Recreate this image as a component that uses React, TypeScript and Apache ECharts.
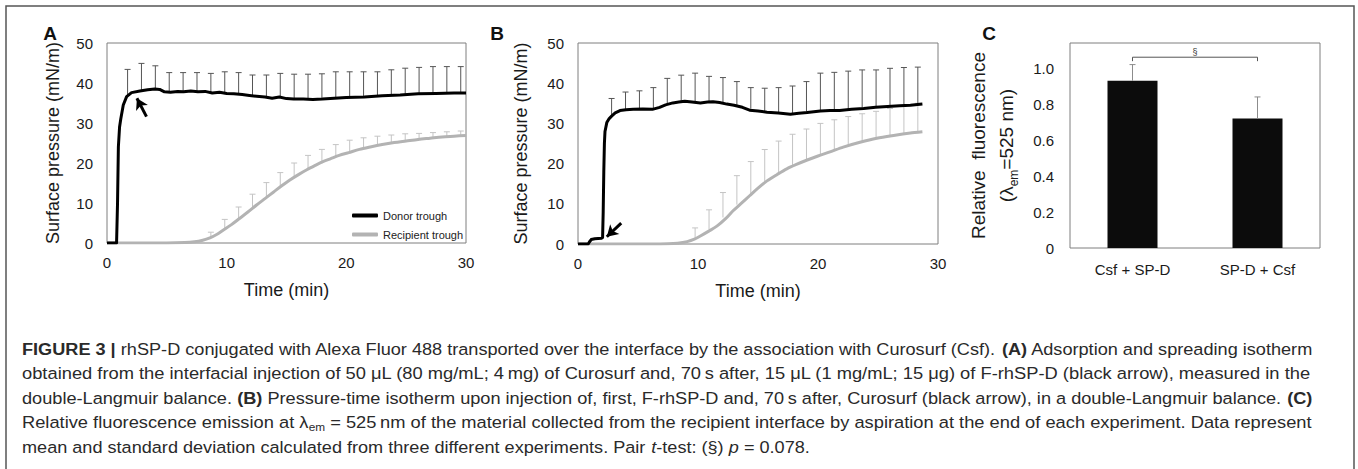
import React, { useEffect, useRef } from 'react';
import * as echarts from 'echarts';

const FONT = '"Liberation Sans", Arial, Helvetica, sans-serif';

// ---------- Panel A : Curosurf first, then F-rhSP-D ----------
const aDonorTime = [0, 0.8, 0.82, 0.88, 0.95, 1.05, 1.15, 1.36, 1.64, 2.05, 2.75, 3.4, 4.0, 4.4, 4.8, 5.3, 5.9, 6.4, 7.0, 7.6, 8.2, 8.8, 9.4, 10.0, 10.6, 11.3, 11.9, 12.5, 13.2, 13.8, 14.4, 15.0, 15.6, 16.4, 17.2, 18.0, 19.0, 20.0, 21.5, 23.0, 24.5, 26.0, 27.5, 29.0, 30.0];
const aDonorPressure = [0, 0, 0, 10, 24, 29, 31, 34.5, 36.6, 37.6, 38.0, 38.3, 38.5, 38.4, 37.8, 37.7, 37.9, 37.8, 38.0, 37.8, 37.9, 37.5, 37.7, 37.4, 37.3, 37.1, 36.9, 36.7, 36.5, 36.2, 36.5, 36.1, 36.0, 36.0, 35.9, 36.0, 36.2, 36.4, 36.5, 36.8, 37.0, 37.3, 37.4, 37.5, 37.5];
const aRecipTime = [0, 5, 6.5, 7.3, 8, 8.6, 9.2, 9.7, 10.4, 11.1, 11.8, 12.5, 13.2, 13.9, 14.6, 15.25, 16, 16.7, 17.4, 18, 18.7, 19.4, 20.2, 21.1, 22, 23, 24, 25, 26, 27, 28, 29, 30];
const aRecipPressure = [0, 0, 0.1, 0.3, 0.7, 1.3, 2.2, 3.2, 4.6, 6.2, 7.8, 9.5, 11.1, 12.7, 14.3, 15.7, 17.1, 18.3, 19.4, 20.3, 21.1, 21.9, 22.6, 23.4, 24.0, 24.6, 25.1, 25.5, 25.9, 26.2, 26.5, 26.7, 26.9];
const aDonorErrTime = [1.72, 2.88, 4.04, 5.2, 6.36, 7.52, 8.68, 9.84, 11.0, 12.16, 13.32, 14.48, 15.64, 16.8, 17.96, 19.12, 20.28, 21.44, 22.6, 23.76, 24.92, 26.08, 27.24, 28.4, 29.56];
const aDonorMean = [36.8, 38.0, 38.5, 37.7, 37.9, 37.9, 37.6, 37.5, 37.1, 36.9, 36.5, 36.4, 36.0, 36.0, 36.0, 36.2, 36.4, 36.6, 36.8, 37.0, 37.2, 37.3, 37.4, 37.5, 37.5];
const aDonorUpper = [43.4, 44.9, 44.3, 42.6, 42.6, 42.6, 42.4, 42.8, 42.6, 42.0, 42.0, 42.4, 42.2, 42.2, 42.3, 42.8, 42.8, 42.8, 42.8, 43.3, 43.7, 43.9, 44.1, 44.1, 44.1];
const aRecipErrTime = [8.68, 9.84, 11.0, 12.16, 13.32, 14.48, 15.64, 16.8, 17.96, 19.12, 20.28, 21.44, 22.6, 23.76, 24.92, 26.08, 27.24, 28.4, 29.56];
const aRecipMean = [1.3, 3.3, 5.9, 8.6, 11.3, 14.0, 16.6, 18.4, 19.9, 21.4, 22.6, 23.6, 24.2, 24.9, 25.4, 25.8, 26.2, 26.5, 26.8];
const aRecipUpper = [2.7, 5.9, 9.0, 12.2, 15.1, 17.6, 20.0, 21.9, 23.4, 24.6, 25.7, 26.3, 26.7, 27.0, 27.3, 27.4, 27.6, 27.8, 28.0];
const aArrowTail = [3.3, 31.6];
const aArrowHead = [2.5, 36.2];

// ---------- Panel B : F-rhSP-D first, then Curosurf ----------
const bDonorTime = [0, 0.85, 0.95, 1.1, 1.4, 1.95, 2.05, 2.1, 2.15, 2.2, 2.25, 2.4, 2.6, 2.8, 3.1, 3.5, 4.0, 4.6, 5.4, 6.2, 6.8, 7.3, 7.9, 8.4, 8.9, 9.5, 10.2, 10.8, 11.25, 11.8, 12.4, 13.0, 13.7, 14.3, 15.0, 15.75, 16.7, 17.7, 18.4, 19.1, 20.2, 21.0, 21.8, 22.8, 23.8, 24.8, 25.8, 26.8, 27.7, 28.7];
const bDonorPressure = [0, 0, 0.5, 1.1, 1.3, 1.4, 1.6, 8, 18, 25, 28, 30.2, 31.2, 31.8, 32.6, 33.2, 33.4, 33.5, 33.6, 33.5, 34.0, 34.6, 35.1, 35.3, 35.5, 35.3, 35.1, 35.3, 35.4, 35.2, 34.8, 34.5, 34.0, 33.3, 33.1, 32.8, 32.6, 32.3, 32.5, 32.7, 33.1, 33.2, 33.2, 33.5, 33.7, 34.0, 34.2, 34.4, 34.5, 34.8];
const bRecipTime = [0, 6, 7.5, 8.3, 9.1, 9.7, 10.2, 10.9, 11.6, 12.3, 12.9, 13.6, 14.3, 15.0, 15.75, 16.6, 17.4, 18.2, 19.1, 20.0, 21.0, 22.1, 23.5, 24.9, 26.3, 27.7, 28.7];
const bRecipPressure = [0, 0, 0.05, 0.2, 0.6, 1.2, 2.0, 3.2, 4.5, 6.3, 8.2, 10.1, 12.0, 13.9, 15.7, 17.3, 18.7, 19.8, 20.9, 21.9, 22.9, 24.1, 25.3, 26.3, 27.0, 27.6, 27.9];
const bDonorErrTime = [2.8, 3.96, 5.12, 6.28, 7.44, 8.6, 9.76, 10.92, 12.08, 13.24, 14.4, 15.56, 16.72, 17.88, 19.04, 20.2, 21.36, 22.52, 23.68, 24.84, 26.0, 27.16, 28.32];
const bDonorMean = [31.8, 33.4, 33.5, 33.5, 34.7, 35.3, 35.3, 35.3, 34.9, 34.3, 33.3, 32.9, 32.6, 32.4, 32.7, 33.1, 33.2, 33.4, 33.7, 34.0, 34.2, 34.4, 34.6];
const bDonorUpper = [36.2, 37.8, 38.1, 38.9, 41.2, 42.0, 42.5, 41.7, 41.4, 40.4, 38.9, 38.75, 38.9, 39.3, 40.4, 42.5, 42.7, 43.0, 43.3, 43.3, 43.7, 43.9, 44.0];
const bRecipErrTime = [9.76, 10.92, 12.08, 13.24, 14.4, 15.56, 16.72, 17.88, 19.04, 20.2, 21.36, 22.52, 23.68, 24.84, 26.0, 27.16, 28.32];
const bRecipMean = [1.5, 3.7, 6.6, 9.8, 12.2, 15.2, 17.5, 19.5, 20.9, 22.2, 23.4, 24.5, 25.4, 26.2, 26.9, 27.4, 27.8];
const bRecipUpper = [4.0, 8.5, 12.8, 17.0, 20.5, 23.5, 25.6, 27.3, 28.6, 30.0, 30.9, 31.7, 32.4, 33.0, 33.7, 34.2, 35.0];
const bArrowTail = [3.6, 5.2];
const bArrowHead = [2.4, 1.8];

// ---------- Panel C : relative fluorescence ----------
const cCategories = ['Csf + SP-D', 'SP-D + Csf'];
const cMeans = [0.93, 0.72];
const cSD = [0.09, 0.12];
const cBracketLevel = 1.061;
const cBracketTick = 1.039;
const cBracketLabelLevel = 1.09;
const cSigLabel = '§';

const timeTicks = [0, 10, 20, 30];

// ---------- Caption (segments: n normal, b bold, i italic, s subscript) ----------
const captionLines: [string, string][][] = [
  [['FIGURE 3 | ', 'b'], ['rhSP-D conjugated with Alexa Fluor 488 transported over the interface by the association with Curosurf (Csf). ', 'n'], ['(A)', 'b'], [' Adsorption and spreading isotherm', 'n']],
  [['obtained from the interfacial injection of 50 μL (80 mg/mL; 4\u2009mg) of Curosurf and, 70\u2009s after, 15 μL (1 mg/mL; 15 μg) of F-rhSP-D (black arrow), measured in the', 'n']],
  [['double-Langmuir balance. ', 'n'], ['(B)', 'b'], [' Pressure-time isotherm upon injection of, first, F-rhSP-D and, 70\u2009s after, Curosurf (black arrow), in a double-Langmuir balance. ', 'n'], ['(C)', 'b']],
  [['Relative fluorescence emission at λ', 'n'], ['em', 's'], [' = 525\u2009nm of the material collected from the recipient interface by aspiration at the end of each experiment. Data represent', 'n']],
  [['mean and standard deviation calculated from three different experiments. Pair ', 'n'], ['t', 'i'], ['-test: (§) ', 'n'], ['p', 'i'], [' = 0.078.', 'n']],
];
const captionWidths = [1291, 1291, 1291, 1291, 788];

const CAP_SIZE = 17;
const CAP_SUB = 11;

function captionGraphics() {
  const canvas = document.createElement('canvas');
  const ctx = canvas.getContext('2d')!;
  const out: any[] = [];
  captionLines.forEach((segs, i) => {
    let w = 0;
    let text = '';
    segs.forEach(([t, k]) => {
      const fs = k === 's' ? CAP_SUB : CAP_SIZE;
      ctx.font = `${k === 'i' ? 'italic ' : ''}${k === 'b' ? 'bold ' : ''}${fs}px ${FONT}`;
      w += ctx.measureText(t).width;
      text += `{${k}|${t}}`;
    });
    const sx = captionWidths[i] / w;
    out.push({
      type: 'text',
      x: 22,
      y: 349 + i * 24.5,
      scaleX: sx,
      silent: true,
      style: {
        text,
        align: 'left',
        verticalAlign: 'middle',
        fill: '#2a2a2a',
        rich: {
          n: { fontSize: CAP_SIZE, fontFamily: FONT, lineHeight: 20, fill: '#2a2a2a' },
          b: { fontSize: CAP_SIZE, fontFamily: FONT, fontWeight: 'bold', lineHeight: 20, fill: '#2a2a2a' },
          i: { fontSize: CAP_SIZE, fontFamily: FONT, fontStyle: 'italic', lineHeight: 20, fill: '#2a2a2a' },
          s: { fontSize: CAP_SUB, fontFamily: FONT, lineHeight: 8, verticalAlign: 'bottom', fill: '#2a2a2a' },
        },
      },
    });
  });
  return out;
}

const zip = (xs: number[], ys: number[]) => xs.map((x, i) => [x, ys[i]]);

function errSeries(xIdx: number, yIdx: number, times: number[], means: number[], uppers: number[], color: string, z: number) {
  return {
    type: 'custom',
    xAxisIndex: xIdx,
    yAxisIndex: yIdx,
    z,
    silent: true,
    data: times.map((t, i) => [t, means[i], uppers[i]]),
    renderItem: (_p: any, api: any) => {
      const base = api.coord([api.value(0), api.value(1)]);
      const top = api.coord([api.value(0), api.value(2)]);
      return {
        type: 'group',
        children: [
          { type: 'line', shape: { x1: base[0], y1: base[1], x2: base[0], y2: top[1] }, style: { stroke: color, lineWidth: 1 } },
          { type: 'line', shape: { x1: base[0] - 3, y1: top[1], x2: base[0] + 3, y2: top[1] }, style: { stroke: color, lineWidth: 1 } },
        ],
      };
    },
  };
}

function arrowMark(tail: number[], head: number[]) {
  return {
    silent: true,
    symbol: ['none', 'arrow'],
    symbolSize: [10, 11],
    label: { show: false },
    lineStyle: { color: '#000', width: 3, type: 'solid' },
    data: [[{ coord: tail }, { coord: head }]],
  };
}

const FRAME = '#7f7f7f';
const TXT = '#1a1a1a';

function timeAxis(gridIndex: number) {
  return {
    type: 'value',
    gridIndex,
    min: 0,
    max: 30,
    interval: 10,
    name: 'Time (min)',
    nameLocation: 'middle',
    nameGap: 38,
    nameTextStyle: { fontSize: 18, color: TXT, fontFamily: FONT },
    axisLine: { show: false },
    axisTick: { show: false },
    splitLine: { show: false },
    axisLabel: { fontSize: 15, color: TXT, fontFamily: FONT, margin: 12, formatter: (v: number) => (timeTicks.includes(v) ? String(v) : '') },
  };
}

function pressureAxis(gridIndex: number, gap: number) {
  return {
    type: 'value',
    gridIndex,
    min: 0,
    max: 50,
    interval: 10,
    name: 'Surface pressure (mN/m)',
    nameLocation: 'middle',
    nameRotate: 90,
    nameGap: gap,
    nameTextStyle: { fontSize: 18, color: TXT, fontFamily: FONT },
    axisLine: { show: false },
    axisTick: { show: false },
    splitLine: { show: false },
    axisLabel: { fontSize: 15, color: TXT, fontFamily: FONT, margin: 14 },
  };
}

function buildOption(): any {
  return {
    animation: false,
    backgroundColor: '#ffffff',
    textStyle: { fontFamily: FONT },
    grid: [
      { left: 107, top: 43, width: 359, height: 200, show: true, borderColor: FRAME, borderWidth: 1, backgroundColor: 'transparent' },
      { left: 578, top: 43, width: 360, height: 201, show: true, borderColor: FRAME, borderWidth: 1, backgroundColor: 'transparent' },
      { left: 1070, top: 43, width: 250, height: 205, show: true, borderColor: FRAME, borderWidth: 1, backgroundColor: 'transparent' },
    ],
    xAxis: [
      timeAxis(0),
      timeAxis(1),
      {
        type: 'category',
        gridIndex: 2,
        data: cCategories,
        axisLine: { show: false },
        axisTick: { show: false },
        axisLabel: { fontSize: 15, color: TXT, fontFamily: FONT, margin: 14 },
      },
    ],
    yAxis: [
      pressureAxis(0, 45),
      pressureAxis(1, 48),
      {
        type: 'value',
        gridIndex: 2,
        min: 0,
        max: 1.14,
        interval: 0.2,
        name: '{a|Relative  fluorescence}\n{a|(λ}{s|em}{a|=525 nm)}',
        nameLocation: 'middle',
        nameRotate: 90,
        nameGap: 50,
        nameTextStyle: {
          color: TXT,
          fontFamily: FONT,
          fontSize: 19,
          rich: {
            a: { fontSize: 19, lineHeight: 28, fontFamily: FONT, color: TXT },
            s: { fontSize: 12, lineHeight: 15, verticalAlign: 'bottom', fontFamily: FONT, color: TXT },
          },
        },
        axisLine: { show: false },
        axisTick: { show: false },
        splitLine: { show: false },
        axisLabel: {
          fontSize: 15,
          color: TXT,
          fontFamily: FONT,
          margin: 16,
          formatter: (v: number) => (v > 1.001 ? '' : v === 0 ? '0' : v.toFixed(1)),
        },
      },
    ],
    legend: {
      data: ['Donor trough', 'Recipient trough'],
      left: 347,
      top: 204,
      orient: 'vertical',
      icon: 'roundRect',
      itemWidth: 26,
      itemHeight: 4,
      itemGap: 6,
      selectedMode: false,
      textStyle: { fontSize: 11, color: '#222', fontFamily: FONT, lineHeight: 13 },
    },
    series: [
      // Panel A
      errSeries(0, 0, aRecipErrTime, aRecipMean, aRecipUpper, '#c4c4c4', 2),
      errSeries(0, 0, aDonorErrTime, aDonorMean, aDonorUpper, '#555555', 3),
      {
        type: 'line', name: 'Recipient trough', xAxisIndex: 0, yAxisIndex: 0, z: 4,
        data: zip(aRecipTime, aRecipPressure), symbol: 'none', smooth: 0.3,
        lineStyle: { color: '#b3b3b3', width: 3 }, itemStyle: { color: '#b3b3b3' },
      },
      {
        type: 'line', name: 'Donor trough', xAxisIndex: 0, yAxisIndex: 0, z: 5,
        data: zip(aDonorTime, aDonorPressure), symbol: 'none',
        lineStyle: { color: '#000', width: 3, join: 'round' }, itemStyle: { color: '#000' },
        markLine: arrowMark(aArrowTail, aArrowHead),
      },
      // Panel B
      errSeries(1, 1, bRecipErrTime, bRecipMean, bRecipUpper, '#c4c4c4', 2),
      errSeries(1, 1, bDonorErrTime, bDonorMean, bDonorUpper, '#555555', 3),
      {
        type: 'line', name: 'Recipient trough (B)', xAxisIndex: 1, yAxisIndex: 1, z: 4,
        data: zip(bRecipTime, bRecipPressure), symbol: 'none', smooth: 0.3,
        lineStyle: { color: '#b3b3b3', width: 3 }, itemStyle: { color: '#b3b3b3' },
      },
      {
        type: 'line', name: 'Donor trough (B)', xAxisIndex: 1, yAxisIndex: 1, z: 5,
        data: zip(bDonorTime, bDonorPressure), symbol: 'none',
        lineStyle: { color: '#000', width: 3, join: 'round' }, itemStyle: { color: '#000' },
        markLine: arrowMark(bArrowTail, bArrowHead),
      },
      // Panel C
      {
        type: 'bar', xAxisIndex: 2, yAxisIndex: 2, z: 3, barWidth: 50,
        data: cMeans, itemStyle: { color: '#0c0c0c' }, silent: true,
      },
      {
        type: 'custom', xAxisIndex: 2, yAxisIndex: 2, z: 4, silent: true,
        data: cMeans.map((m, i) => [i, m, m + cSD[i]]),
        renderItem: (_p: any, api: any) => {
          const base = api.coord([api.value(0), api.value(1)]);
          const top = api.coord([api.value(0), api.value(2)]);
          return {
            type: 'group',
            children: [
              { type: 'line', shape: { x1: base[0], y1: base[1], x2: base[0], y2: top[1] }, style: { stroke: '#8c8c8c', lineWidth: 1 } },
              { type: 'line', shape: { x1: base[0] - 3, y1: top[1], x2: base[0] + 3, y2: top[1] }, style: { stroke: '#8c8c8c', lineWidth: 1 } },
            ],
          };
        },
      },
      {
        type: 'custom', xAxisIndex: 2, yAxisIndex: 2, z: 4, silent: true,
        data: [[0, 1, cBracketLevel, cBracketTick, cBracketLabelLevel]],
        renderItem: (_p: any, api: any) => {
          const l0 = api.coord([api.value(0), api.value(2)]);
          const l1 = api.coord([api.value(1), api.value(2)]);
          const t0 = api.coord([api.value(0), api.value(3)]);
          const lab = api.coord([api.value(0), api.value(4)]);
          return {
            type: 'group',
            children: [
              {
                type: 'polyline',
                shape: { points: [[l0[0], t0[1]], [l0[0], l0[1]], [l1[0], l1[1]], [l1[0], t0[1]]] },
                style: { stroke: '#555', lineWidth: 1, fill: 'none' },
              },
              {
                type: 'text',
                x: (l0[0] + l1[0]) / 2,
                y: lab[1],
                style: { text: cSigLabel, fontSize: 9, fontFamily: FONT, fill: '#333', align: 'center', verticalAlign: 'middle' },
              },
            ],
          };
        },
      },
    ],
    graphic: [
      { type: 'rect', silent: true, shape: { x: 6, y: 6, width: 1348, height: 480 }, style: { fill: 'none', stroke: '#555', lineWidth: 1.5 } },
      { type: 'text', silent: true, x: 50, y: 33, style: { text: 'A', fontSize: 19, fontWeight: 'bold', fontFamily: FONT, fill: '#111', align: 'center', verticalAlign: 'middle' } },
      { type: 'text', silent: true, x: 497, y: 33, style: { text: 'B', fontSize: 19, fontWeight: 'bold', fontFamily: FONT, fill: '#111', align: 'center', verticalAlign: 'middle' } },
      { type: 'text', silent: true, x: 989, y: 33, style: { text: 'C', fontSize: 19, fontWeight: 'bold', fontFamily: FONT, fill: '#111', align: 'center', verticalAlign: 'middle' } },
      ...captionGraphics(),
    ],
  };
}

export default function App() {
  const ref = useRef<HTMLDivElement>(null);
  useEffect(() => {
    if (!ref.current) return;
    const chart = echarts.init(ref.current, null, { renderer: 'svg' });
    chart.setOption(buildOption());
    return () => chart.dispose();
  }, []);
  return (
    <div
      ref={ref}
      style={{ position: 'fixed', left: 0, top: 0, width: 1358, height: 469, background: '#fff' }}
    />
  );
}
